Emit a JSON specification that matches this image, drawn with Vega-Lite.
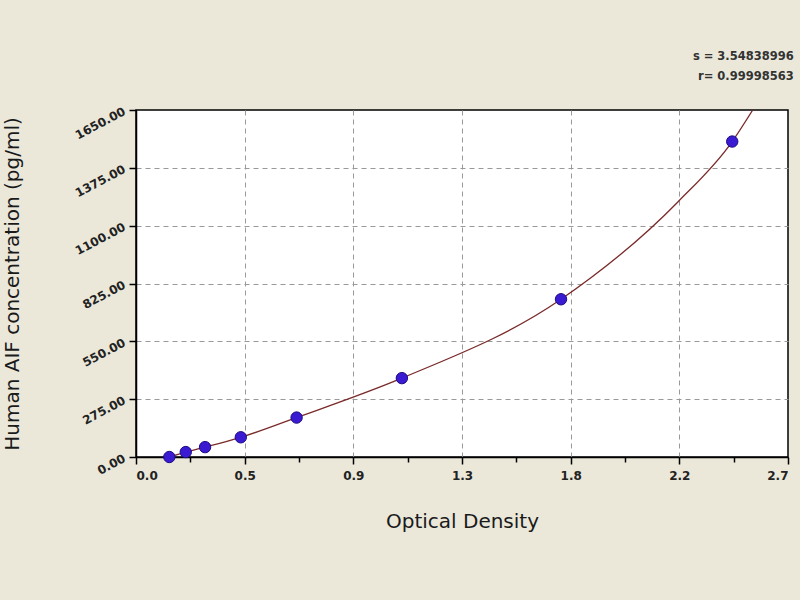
{
  "$schema": "https://vega.github.io/schema/vega-lite/v6.json",
  "width": 652,
  "height": 347,
  "autosize": {"type": "none"},
  "padding": {"left": 136, "top": 110, "right": 12, "bottom": 143},
  "background": "#ebe8da",
  "datasets": {
    "points": [
      {"od": 0.138, "conc": 0},
      {"od": 0.206, "conc": 23.44},
      {"od": 0.286, "conc": 46.88},
      {"od": 0.434, "conc": 93.75},
      {"od": 0.665, "conc": 187.5},
      {"od": 1.101, "conc": 375},
      {"od": 1.760, "conc": 750},
      {"od": 2.469, "conc": 1500}
    ],
    "curve": [
      {"od": 0.138, "conc": 0},
      {"od": 0.206, "conc": 23.44},
      {"od": 0.286, "conc": 46.88},
      {"od": 0.434, "conc": 93.75},
      {"od": 0.665, "conc": 187.5},
      {"od": 1.101, "conc": 375},
      {"od": 1.760, "conc": 750},
      {"od": 2.245, "conc": 1214},
      {"od": 2.469, "conc": 1500},
      {"od": 2.554, "conc": 1650}
    ]
  },
  "title": {
    "text": ["s = 3.54838996", "r= 0.99998563"],
    "anchor": "end",
    "frame": "bounds",
    "fontSize": 11.5,
    "fontWeight": "bold",
    "font": "DejaVu Sans",
    "color": "#333333",
    "lineHeight": 20,
    "offset": 22,
    "dx": 5
  },
  "config": {
    "view": {"fill": "white", "stroke": "black", "strokeWidth": 1.5},
    "axis": {
      "domainColor": "black",
      "domainWidth": 1.5,
      "tickColor": "black",
      "tickWidth": 1.5,
      "labelFont": "DejaVu Sans",
      "labelFontWeight": "bold",
      "labelFontSize": 12,
      "labelColor": "#222222",
      "labelOverlap": false,
      "titleFont": "DejaVu Sans",
      "titleFontWeight": "normal",
      "titleColor": "#1a1a1a",
      "gridColor": "#999999",
      "gridDash": [5, 4],
      "gridWidth": 1
    }
  },
  "layer": [
    {
      "data": {"name": "curve"},
      "mark": {"type": "line", "interpolate": "monotone", "color": "#7a2a2a", "strokeWidth": 1.3, "clip": true},
      "encoding": {
        "x": {
          "field": "od",
          "type": "quantitative",
          "scale": {"domain": [0, 2.7], "nice": false, "zero": false},
          "axis": {
            "title": "Optical Density",
            "titleFontSize": 20,
            "titlePadding": 30,
            "values": [0, 0.1125, 0.225, 0.3375, 0.45, 0.5625, 0.675, 0.7875, 0.9, 1.0125, 1.125, 1.2375, 1.35, 1.4625, 1.575, 1.6875, 1.8, 1.9125, 2.025, 2.1375, 2.25, 2.3625, 2.475, 2.5875, 2.7],
            "labelExpr": "abs(datum.value/0.45 - round(datum.value/0.45)) > 0.01 ? '' : datum.value < 0.2 ? '0.0' : datum.value < 0.6 ? '0.5' : datum.value < 1.0 ? '0.9' : datum.value < 1.5 ? '1.3' : datum.value < 2.0 ? '1.8' : datum.value < 2.5 ? '2.2' : '2.7'",
            "labelPadding": 6,
            "tickSize": {"condition": {"test": "abs(datum.value/0.45 - round(datum.value/0.45)) < 0.01", "value": 7}, "value": 5},
            "gridOpacity": {"condition": {"test": "abs(datum.value/0.45 - round(datum.value/0.45)) < 0.01 && datum.value > 0.1 && datum.value < 2.6", "value": 1}, "value": 0}
          }
        },
        "y": {
          "field": "conc",
          "type": "quantitative",
          "scale": {"domain": [0, 1650], "nice": false},
          "axis": {
            "title": "Human AIF concentration (pg/ml)",
            "titleFontSize": 20,
            "titlePadding": 50,
            "values": [0, 68.75, 137.5, 206.25, 275, 343.75, 412.5, 481.25, 550, 618.75, 687.5, 756.25, 825, 893.75, 962.5, 1031.25, 1100, 1168.75, 1237.5, 1306.25, 1375, 1443.75, 1512.5, 1581.25, 1650],
            "labelExpr": "abs(datum.value/275 - round(datum.value/275)) > 0.01 ? '' : format(datum.value, '.2f')",
            "labelAngle": -28,
            "labelPadding": 5,
            "tickSize": {"condition": {"test": "abs(datum.value/275 - round(datum.value/275)) < 0.01", "value": 7}, "value": 5},
            "gridOpacity": {"condition": {"test": "abs(datum.value/275 - round(datum.value/275)) < 0.01 && datum.value > 10 && datum.value < 1600", "value": 1}, "value": 0}
          }
        }
      }
    },
    {
      "data": {"name": "points"},
      "mark": {"type": "point", "filled": true, "size": 130, "fill": "#3b1bd1", "stroke": "#1c0c85", "strokeWidth": 1, "opacity": 1},
      "encoding": {
        "x": {"field": "od", "type": "quantitative"},
        "y": {"field": "conc", "type": "quantitative"}
      }
    }
  ]
}
